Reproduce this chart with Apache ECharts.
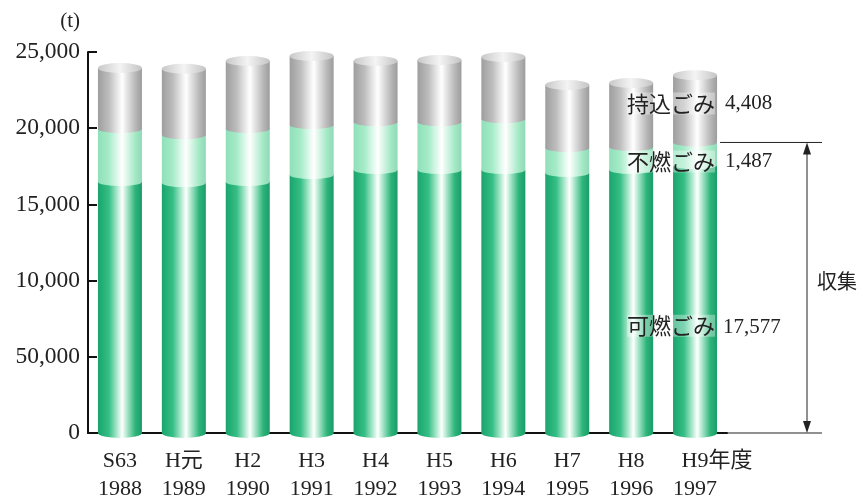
<!DOCTYPE html>
<html>
<head>
<meta charset="utf-8">
<script src="https://cdn.jsdelivr.net/npm/echarts@6/dist/echarts.min.js"></script>
<style>html,body{margin:0;padding:0;background:#fff}#main{width:866px;height:504px}</style>
</head>
<body>
<div id="main"></div>
<script>
// ---- data ----
const categories = ['S63','H元','H2','H3','H4','H5','H6','H7','H8','H9'];
const years = ['1988','1989','1990','1991','1992','1993','1994','1995','1996','1997'];
const combustible    = [16470, 16400, 16470, 16930, 17260, 17260, 17260, 17060, 17260, 17577]; // 可燃ごみ
const nonCombustible = [3480, 3150, 3480, 3280, 3140, 3140, 3340, 1640, 1510, 1487];         // 不燃ごみ
const broughtIn      = [4000, 4350, 4460, 4530, 4010, 4080, 4070, 4130, 4200, 4408];         // 持込ごみ
const yTickLabels = ['0','50,000','10,000','15,000','20,000','25,000'];
const seriesNames = ['可燃ごみ','不燃ごみ','持込ごみ'];
const lastYearSuffix = '年度';
const collectLabel = '収集';
const unitLabel = '(t)';

// ---- styles ----
const SERIF = '"Liberation Serif","Noto Sans CJK JP",serif';
const CJK = '"Noto Sans CJK JP","Liberation Serif",sans-serif';
function grad(stops){
  return {type:'linear',x:0,y:0,x2:1,y2:0,colorStops:stops.map(s=>({offset:s[0],color:s[1]}))};
}
const greenG = grad([[0,'#18a56b'],[0.25,'#36be86'],[0.45,'#b7ecd3'],[0.55,'#ffffff'],[0.65,'#b2e9cf'],[0.85,'#2db47b'],[1,'#1a9d66']]);
const lightG = grad([[0,'#8ee0b8'],[0.25,'#a6ebc9'],[0.45,'#e2f9ee'],[0.55,'#ffffff'],[0.65,'#dff7eb'],[0.85,'#a3e8c5'],[1,'#8fdab5']]);
const grayG  = grad([[0,'#9e9e9e'],[0.25,'#bdbdbd'],[0.45,'#eaeaea'],[0.55,'#ffffff'],[0.65,'#e6e6e6'],[0.85,'#b8b8b8'],[1,'#9c9c9c']]);
const capG   = grad([[0,'#c8c8c8'],[0.5,'#f4f4f4'],[1,'#c4c4c4']]);

const BW = 44;
const cum1 = combustible.map((v,i)=>v);
const cum2 = combustible.map((v,i)=>v+nonCombustible[i]);
const totals = combustible.map((v,i)=>v+nonCombustible[i]+broughtIn[i]);

const chart = echarts.init(document.getElementById('main'));
const option = {
  animation:false,
  grid:{left:88, right:139, top:52, bottom:71, containLabel:false},
  xAxis:{
    type:'category', data:categories,
    axisLine:{lineStyle:{color:'#111',width:2}},
    axisTick:{inside:true,length:6,lineStyle:{color:'#111',width:2}},
    axisLabel:{
      interval:0, margin:14, fontSize:22, lineHeight:28, color:'#222', fontFamily:SERIF,
      formatter:function(v,i){
        if(i===categories.length-1){ return '{pad|}'+v+lastYearSuffix+'\n'+years[i]; }
        return v+'\n'+years[i];
      },
      rich:{pad:{width:44,lineHeight:28}}
    }
  },
  yAxis:{
    type:'value', min:0, max:25000, interval:5000,
    name:unitLabel, nameLocation:'end', nameGap:20,
    nameTextStyle:{fontSize:21,color:'#222',fontFamily:SERIF,align:'right',padding:[0,8,0,0]},
    axisLine:{show:true,lineStyle:{color:'#111',width:2}},
    axisTick:{show:true,inside:true,length:9,lineStyle:{color:'#111',width:2}},
    splitLine:{show:false},
    axisLabel:{fontSize:23.5,color:'#222',fontFamily:SERIF,margin:8,
      formatter:function(v){return yTickLabels[Math.round(v/5000)];}}
  },
  series:[
    {name:seriesNames[0],type:'bar',stack:'g',barWidth:BW,data:combustible,itemStyle:{color:greenG},z:2},
    {name:seriesNames[1],type:'bar',stack:'g',barWidth:BW,data:nonCombustible,itemStyle:{color:lightG},z:2},
    {name:seriesNames[2],type:'bar',stack:'g',barWidth:BW,data:broughtIn,itemStyle:{color:grayG},z:2},
    {type:'pictorialBar',symbol:'circle',symbolSize:[BW,10],symbolPosition:'start',symbolOffset:[0,'50%'],data:combustible,itemStyle:{color:greenG},z:3,silent:true},
    {type:'pictorialBar',symbol:'circle',symbolSize:[BW,8],symbolPosition:'end',symbolOffset:[0,'-50%'],data:cum1,itemStyle:{color:lightG},z:3,silent:true},
    {type:'pictorialBar',symbol:'circle',symbolSize:[BW,8],symbolPosition:'end',symbolOffset:[0,'-50%'],data:cum2,itemStyle:{color:grayG},z:4,silent:true},
    {type:'pictorialBar',symbol:'circle',symbolSize:[BW,10],symbolPosition:'end',symbolOffset:[0,'-50%'],data:totals,itemStyle:{color:capG},z:5,silent:true}
  ]
};
chart.setOption(option);

// ---- annotations on the last bar ----
const L = categories.length-1;
const P = (i,v)=>chart.convertToPixel({gridIndex:0},[i,v]);
const pLast = P(L,0), pPrev = P(L-1,0);
const band = pLast[0]-pPrev[0];
const xc = pLast[0];
const y0 = pLast[1];
const yCollect = P(L, cum2[L])[1];
const xEnd = xc + band/2;
const xRight = xEnd + 95;
const xArrow = xEnd + 80;
const yBrought = P(L, cum2[L] + broughtIn[L]*0.58)[1];
const yNon = yCollect + 19;
const yComb = P(L, combustible[L]*0.4)[1];
const fmt = n=>n.toLocaleString('en-US');
const lblStyle = {fill:'#222',font:'22px '+CJK,textAlign:'right',textVerticalAlign:'middle',backgroundColor:'rgba(255,255,255,0.35)'};
const numStyle = {fill:'#222',font:'21px '+SERIF,textAlign:'left',textVerticalAlign:'middle'};
const graphics = [
  {type:'line',shape:{x1:xEnd,y1:y0,x2:xRight,y2:y0},style:{stroke:'#222',lineWidth:1},z:10},
  {type:'line',shape:{x1:xc+25,y1:yCollect,x2:xRight,y2:yCollect},style:{stroke:'#222',lineWidth:1},z:10},
  {type:'line',shape:{x1:xArrow,y1:yCollect+8,x2:xArrow,y2:y0-8},style:{stroke:'#222',lineWidth:1},z:10},
  {type:'polygon',shape:{points:[[xArrow,yCollect],[xArrow-4,yCollect+12],[xArrow+4,yCollect+12]]},style:{fill:'#222'},z:10},
  {type:'polygon',shape:{points:[[xArrow,y0],[xArrow-4,y0-12],[xArrow+4,y0-12]]},style:{fill:'#222'},z:10},
  {type:'text',x:xArrow+10,y:(yCollect+y0)/2-6,style:{text:collectLabel,fill:'#222',font:'20px '+CJK,textAlign:'left',textVerticalAlign:'middle'},z:10},
  {type:'text',x:xc+20,y:yBrought,style:Object.assign({text:seriesNames[2]},lblStyle),z:10},
  {type:'text',x:xc+30,y:yBrought,style:Object.assign({text:fmt(broughtIn[L])},numStyle),z:10},
  {type:'text',x:xc+20,y:yNon,style:Object.assign({text:seriesNames[1]},lblStyle),z:10},
  {type:'text',x:xc+30,y:yNon,style:Object.assign({text:fmt(nonCombustible[L])},numStyle),z:10},
  {type:'text',x:xc+20,y:yComb,style:Object.assign({text:seriesNames[0]},lblStyle),z:10},
  {type:'text',x:xc+28,y:yComb+2,style:Object.assign({text:fmt(combustible[L])},numStyle),z:10}
];
chart.setOption({graphic:{elements:graphics}});
</script>
</body>
</html>
